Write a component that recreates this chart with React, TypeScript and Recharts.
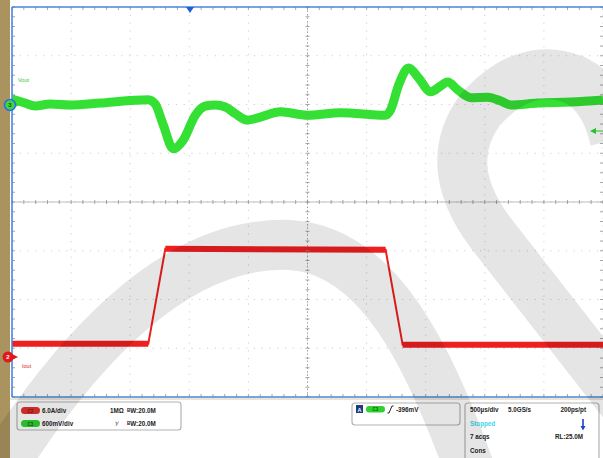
import { CartesianGrid, Line, LineChart, ReferenceLine, XAxis, YAxis } from "recharts";

// 500 µs/div, 10 horizontal divisions; 8 vertical divisions
const timeTicks = [0, 500, 1000, 1500, 2000, 2500, 3000, 3500, 4000, 4500, 5000];
const divTicks = [0, 1, 2, 3, 4, 5, 6, 7, 8];

// CH3 Vout (screen divisions, 600 mV/div)
const voutTime = [
  0, 110, 195, 322, 492, 746, 1000, 1153, 1212, 1280, 1364, 1449, 1551, 1636, 1720, 1805,
  1890, 1992, 2102, 2271, 2500, 2780, 3161, 3203, 3271, 3356, 3441, 3542, 3627, 3686, 3771, 3881,
  4025, 4136, 4220, 4449, 4729, 5000,
];
const voutDiv = [
  6.11, 6.03, 5.97, 6.01, 5.99, 6.03, 6.08, 6.1, 6.01, 5.58, 5.09, 5.27, 5.78, 5.97, 5.99, 5.95,
  5.81, 5.68, 5.74, 5.85, 5.78, 5.83, 5.78, 5.89, 6.4, 6.75, 6.54, 6.26, 6.38, 6.46, 6.3, 6.14,
  6.15, 6.07, 5.99, 6.03, 6.05, 6.09,
];

// CH2 Iout (screen divisions, 6.0 A/div)
const ioutTime = [0, 1153, 1297, 3161, 3305, 5000];
const ioutDiv = [1.09, 1.09, 3.04, 3.02, 1.07, 1.07];

const voutData = voutTime.map((t, i) => ({ t, v: voutDiv[i] }));
const ioutData = ioutTime.map((t, i) => ({ t, v: ioutDiv[i] }));
// flat parts of the current trace are drawn thicker, the edges stay thin
const ioutFlat = ioutData.flatMap((p, i) => {
  const next = ioutData[i + 1];
  if (next && Math.abs(next.v - p.v) > 0.5) return [p, { t: (p.t + next.t) / 2, v: null }];
  return [p];
});

const W = 603;
const H = 458;
const PX = 12;
const PY = 7;
const PW = 591;
const PH = 390;

const minorX = Array.from({ length: 51 }, (_, i) => PX + (PW * i) / 50);
const minorY = Array.from({ length: 41 }, (_, i) => PY + (PH * i) / 40);
const cx = PX + PW / 2;
const cy = PY + PH / 2;

const txt = {
  fontSize: 6.3,
  fontWeight: 700,
  fill: "#222",
  fontFamily: "'Liberation Sans', Arial, sans-serif",
} as const;

const Frame = () => (
  <svg width={W} height={H} style={{ position: "absolute", left: 0, top: 0 }}>
    <g stroke="#8f8f8f" strokeWidth={0.8}>
      {minorX.map((x, i) => (
        <g key={"x" + i}>
          <line x1={x} x2={x} y1={PY} y2={PY + 3} />
          <line x1={x} x2={x} y1={PY + PH - 3} y2={PY + PH} />
          <line x1={x} x2={x} y1={cy - 2} y2={cy + 2} />
        </g>
      ))}
      {minorY.map((y, i) => (
        <g key={"y" + i}>
          <line x1={PX} x2={PX + 3} y1={y} y2={y} />
          <line x1={PX + PW - 3} x2={PX + PW} y1={y} y2={y} />
          <line x1={cx - 2} x2={cx + 2} y1={y} y2={y} />
        </g>
      ))}
    </g>
    <g stroke="#4a86e0" strokeWidth={1.6}>
      <line x1={PX} x2={PX} y1={PY} y2={PY + PH} />
      <line x1={PX} x2={W} y1={PY} y2={PY} />
      <line x1={PX} x2={W} y1={PY + PH} y2={PY + PH} />
    </g>
    <line x1={10} x2={W} y1={399} y2={399} stroke="#d8c9a2" strokeWidth={1.2} />

    {/* trigger position */}
    <path d="M186,7 L194,7 L190,13 Z" fill="#1f5fd8" />

    {/* channel markers and labels */}
    <path d="M14,102 L19,105 L14,108 Z" fill="#33d633" />
    <circle cx={10} cy={105} r={5.5} fill="#3fd63f" stroke="#2a6fe0" strokeWidth={1.5} />
    <text x={10} y={107.2} textAnchor="middle" style={{ ...txt, fontSize: 6, fill: "#145214" }}>3</text>
    <text x={18} y={82} style={{ ...txt, fontSize: 5.5, fontWeight: 400, fill: "#2ecc2e" }}>Vout</text>

    <path d="M12,354 L18,357 L12,360 Z" fill="#e01a1a" />
    <circle cx={8} cy={357} r={5.5} fill="#e01a1a" />
    <text x={8} y={359.2} textAnchor="middle" style={{ ...txt, fontSize: 6, fill: "#fff" }}>2</text>
    <text x={22} y={368} style={{ ...txt, fontSize: 5.5, fontWeight: 400, fill: "#e01a1a" }}>Iout</text>

    <path d="M590,131 L596,128 L596,134 Z" fill="#33d633" />
    <line x1={595} x2={603} y1={131} y2={131} stroke="#33d633" strokeWidth={1} />

    {/* readout boxes */}
    <g fill="#fff" stroke="#b3b3b3" strokeWidth={1.2}>
      <rect x={17} y={402} width={164} height={28} rx={3} />
      <rect x={352} y={403} width={108} height={22} rx={3} />
      <rect x={465} y={403} width={134} height={62} rx={3} />
    </g>

    <rect x={21} y={407} width={19} height={7} rx={3.5} fill="#e23030" />
    <text x={30.5} y={412.6} textAnchor="middle" style={{ ...txt, fontSize: 4.5, fill: "#8a1010" }}>C2</text>
    <text x={42} y={413} style={txt}>6.0A/div</text>
    <text x={110} y={413} style={txt}>1MΩ</text>
    <text x={127} y={413} style={txt}>
      <tspan fontSize={4.5} dy={-1.5}>B</tspan>
      <tspan dy={1.5}>W:20.0M</tspan>
    </text>

    <rect x={21} y={420} width={19} height={7} rx={3.5} fill="#2fd12f" />
    <text x={30.5} y={425.6} textAnchor="middle" style={{ ...txt, fontSize: 4.5, fill: "#146014" }}>C3</text>
    <text x={42} y={426} style={txt}>600mV/div</text>
    <text x={115} y={426} style={{ ...txt, fontWeight: 400 }}>⅟</text>
    <text x={127} y={426} style={txt}>
      <tspan fontSize={4.5} dy={-1.5}>B</tspan>
      <tspan dy={1.5}>W:20.0M</tspan>
    </text>

    <rect x={356} y={405} width={7} height={8} fill="#1c3b7c" />
    <text x={359.5} y={411.5} textAnchor="middle" style={{ ...txt, fontSize: 5.5, fill: "#fff" }}>A</text>
    <rect x={366} y={406} width={19} height={6.5} rx={3.2} fill="#2fd12f" />
    <text x={375.5} y={411.3} textAnchor="middle" style={{ ...txt, fontSize: 4.5, fill: "#146014" }}>C3</text>
    <path d="M387.5,413 L389,413 L392,406 L393.5,406" fill="none" stroke="#222" strokeWidth={1} />
    <text x={396} y={412} style={txt}>-396mV</text>

    <text x={470} y={412} style={txt}>500µs/div</text>
    <text x={508} y={412} style={txt}>5.0GS/s</text>
    <text x={586} y={412} textAnchor="end" style={txt}>200ps/pt</text>
    <text x={470} y={425.5} style={{ ...txt, fill: "#3fd6e6" }}>Stopped</text>
    <path d="M583,419 L583,428" stroke="#1f3fd0" strokeWidth={1.6} />
    <path d="M580.5,426 L583,430.5 L585.5,426 Z" fill="#1f3fd0" />
    <text x={470} y={438.5} style={txt}>7 acqs</text>
    <text x={583} y={438.5} textAnchor="end" style={txt}>RL:25.0M</text>
    <text x={470} y={452.5} style={txt}>Cons</text>

    {/* faint logo overlay */}
    <g fill="none" stroke="rgba(0,0,0,0.1)" strokeWidth={50}>
      <path d="M0,470 C70,360 170,240 290,245 C380,250 430,360 470,470" />
      <path d="M660,450 L490,232 Q440,165 480,110 Q525,60 575,80 Q605,95 615,140" />
    </g>
  </svg>
);

const App = () => {
  return (
    <div
      style={{
        position: "absolute",
        left: 0,
        top: 0,
        width: W,
        height: H,
        background: "#fff",
        overflow: "hidden",
      }}
    >
      <div style={{ position: "absolute", left: 0, top: 0, width: 10, height: H, background: "#aa935f" }} />
      <div style={{ position: "absolute", left: PX, top: PY }}>
        <LineChart width={PW} height={PH} margin={{ top: 0, right: 0, bottom: 0, left: 0 }}>
          <CartesianGrid stroke="#cfcfcf" strokeDasharray="1.2 6.6" />
          <XAxis type="number" dataKey="t" domain={[0, 5000]} ticks={timeTicks} hide height={0} />
          <YAxis type="number" domain={[0, 8]} ticks={divTicks} hide width={0} />
          <ReferenceLine x={2500} stroke="#a5a5a5" strokeDasharray="1.5 2" />
          <ReferenceLine y={4} stroke="#b5b5b5" strokeWidth={0.9} />
          <Line
            data={ioutData}
            dataKey="v"
            type="linear"
            stroke="#ee1f1f"
            strokeWidth={2}
            dot={false}
            isAnimationActive={false}
          />
          <Line
            data={ioutFlat}
            dataKey="v"
            type="linear"
            stroke="#ee1f1f"
            strokeWidth={6}
            dot={false}
            connectNulls={false}
            isAnimationActive={false}
          />
          <Line
            data={voutData}
            dataKey="v"
            type="monotone"
            stroke="#33e033"
            strokeWidth={9}
            dot={false}
            isAnimationActive={false}
          />
        </LineChart>
      </div>
      <Frame />
    </div>
  );
};

export default App;
